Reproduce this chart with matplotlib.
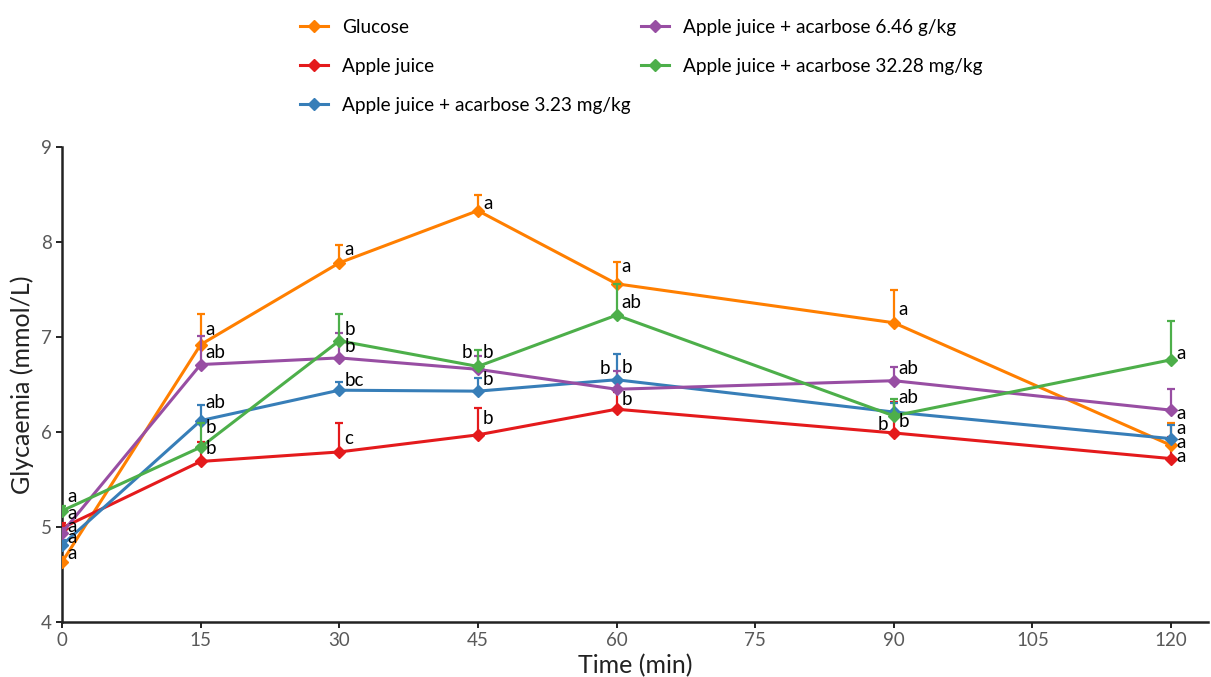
import matplotlib
matplotlib.use("Agg")
import matplotlib.pyplot as plt
from matplotlib.lines import Line2D

plt.rcParams['font.family'] = ['Lato', 'DejaVu Sans']

# Sampling times (min)
time = [0, 15, 30, 45, 60, 90, 120]
xticks = [0, 15, 30, 45, 60, 75, 90, 105, 120]
yticks = [4, 5, 6, 7, 8, 9]

series_names = [
    "Glucose",
    "Apple juice",
    "Apple juice + acarbose 3.23 mg/kg",
    "Apple juice + acarbose 6.46 g/kg",
    "Apple juice + acarbose 32.28 mg/kg",
]

# Mean glycaemia (mmol/L)
glucose = [4.63, 6.92, 7.78, 8.33, 7.56, 7.15, 5.86]
apple = [4.99, 5.69, 5.79, 5.97, 6.24, 5.99, 5.72]
acarb_323 = [4.81, 6.12, 6.44, 6.43, 6.55, 6.21, 5.93]
acarb_646 = [4.94, 6.71, 6.78, 6.66, 6.45, 6.54, 6.23]
acarb_3228 = [5.17, 5.84, 6.96, 6.69, 7.23, 6.17, 6.76]

# Upper error (SEM)
glucose_err = [0.05, 0.32, 0.19, 0.16, 0.23, 0.34, 0.24]
apple_err = [0.05, 0.21, 0.31, 0.28, 0.18, 0.33, 0.23]
acarb_323_err = [0.05, 0.16, 0.09, 0.14, 0.27, 0.10, 0.14]
acarb_646_err = [0.05, 0.30, 0.26, 0.14, 0.19, 0.14, 0.22]
acarb_3228_err = [0.05, 0.26, 0.28, 0.17, 0.33, 0.18, 0.41]

# Significance letters
glucose_sig = ["a", "a", "a", "a", "a", "a", "a"]
apple_sig = ["a", "b", "c", "b", "b", "b", "a"]
acarb_323_sig = ["a", "ab", "bc", "b", "b", "b", "a"]
acarb_646_sig = ["a", "ab", "b", "b", "b", "ab", "a"]
acarb_3228_sig = ["a", "b", "b", "b", "ab", "ab", "a"]

colors = ["#FF7F00", "#E41A1C", "#377EB8", "#984EA3", "#4DAF4A"]
means = [glucose, apple, acarb_323, acarb_646, acarb_3228]
errs = [glucose_err, apple_err, acarb_323_err, acarb_646_err, acarb_3228_err]
sigs = [glucose_sig, apple_sig, acarb_323_sig, acarb_646_sig, acarb_3228_sig]

# Letter placement: vertical pixel offset from the marker, and whether the
# letter sits to the left of the marker instead of the right
letter_dy = [
    [9, 15, 13, 7, 17, 13, 3],
    [14, 13, 13, 16, 10, 11, 2],
    [8, 18, 10, 12, 12, -12, 10],
    [6, 12, 11, 17, 21, 12, -3],
    [14, 20, 11, 14, 13, 18, 6],
]
letter_left = [
    [0, 0, 0, 0, 0, 0, 0],
    [0, 0, 0, 0, 0, 0, 0],
    [0, 0, 0, 0, 0, 1, 0],
    [0, 0, 0, 1, 1, 0, 0],
    [0, 0, 0, 0, 0, 0, 0],
]

W, H = 1211, 677
fig = plt.figure(figsize=(W / 100, H / 100), dpi=100)
ax = fig.add_axes([62 / W, 1 - 622 / H, (1208 - 62) / W, (622 - 147) / H])

zorders = [3, 3, 4, 4, 5]
for name, m, e, c, z in zip(series_names, means, errs, colors, zorders):
    ax.errorbar(time, m, yerr=[[0] * len(e), e], color=c, lw=2.2,
                elinewidth=1.6, capsize=3.2, capthick=1.6,
                marker="D", markersize=6.5, zorder=z, label=name)

for m, s, dys, lefts in zip(means, sigs, letter_dy, letter_left):
    for t, v, lab, dy, lf in zip(time, m, s, dys, lefts):
        dx = -6 if lf else 5
        ax.annotate(lab, (t, v), xytext=(dx, dy), textcoords="offset pixels",
                    ha="right" if lf else "left", va="center",
                    fontsize=13.5, color="black", zorder=10)

ax.set_xlim(0, 124)
ax.set_ylim(4, 9)
ax.set_xticks(xticks)
ax.set_yticks(yticks)
ax.tick_params(axis="both", labelsize=13.5, labelcolor="#595959",
               color="#222222", length=4, width=1.4)
for side in ["top", "right"]:
    ax.spines[side].set_visible(False)
for side in ["left", "bottom"]:
    ax.spines[side].set_linewidth(1.8)
    ax.spines[side].set_color("#222222")
ax.spines["left"].set_bounds(4, 9)

ax.set_xlabel("Time (min)", fontsize=18, color="#222222", labelpad=3)
ax.set_ylabel("Glycaemia (mmol/L)", fontsize=18, color="#222222", labelpad=5)

def handle(c):
    return Line2D([], [], color=c, lw=2.2, marker="D", markersize=6.5)

legend_kw = dict(loc="upper left", frameon=False, fontsize=13.7,
                 handlelength=1.45, handletextpad=0.75, labelspacing=1.15)
fig.legend([handle(c) for c in colors[:3]], series_names[:3],
           bbox_to_anchor=(283 / W, 1 - 2 / H), **legend_kw)
fig.legend([handle(c) for c in colors[3:]], series_names[3:],
           bbox_to_anchor=(624 / W, 1 - 2 / H), **legend_kw)

fig.savefig("out.png", dpi=100)
